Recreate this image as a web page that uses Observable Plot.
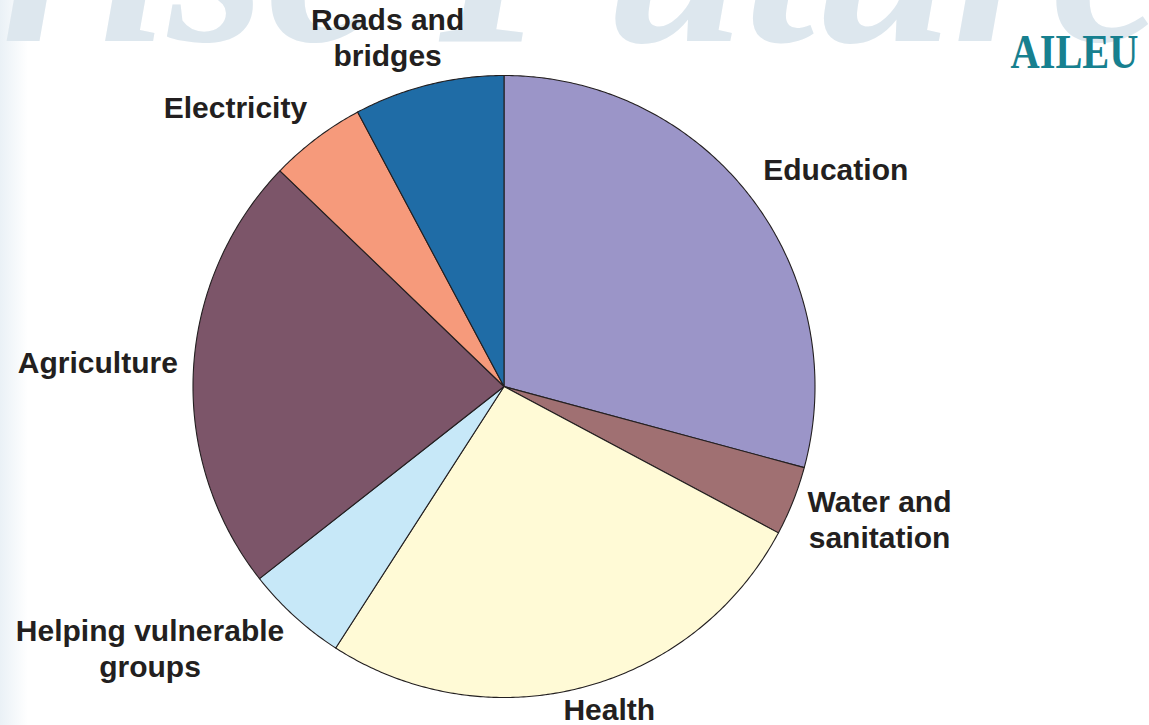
<!DOCTYPE html>
<html><head><meta charset="utf-8">
<script src="https://cdn.jsdelivr.net/npm/d3@7"></script>
<script src="https://cdn.jsdelivr.net/npm/@observablehq/plot@0.6"></script>
<style>
html,body{margin:0;padding:0;}
body{background: linear-gradient(to right, #eaf1f6 0px, #f3f7fa 12px, #ffffff 28px); width:1149px; height:725px; overflow:hidden;}
#chart svg{display:block}
</style></head><body><div id="chart"></div>
<script>
// ---- data ----
const categories = ["Education", "Water and sanitation", "Health", "Helping vulnerable groups", "Agriculture", "Electricity", "Roads and bridges"];
const labels = ["Education", "Water and\nsanitation", "Health", "Helping vulnerable\ngroups", "Agriculture", "Electricity", "Roads and\nbridges"];
const shares = [29.2, 3.6, 26.3, 5.3, 22.8, 5.0, 7.8];
const colors = ["#9b95c8", "#a07072", "#fffad6", "#c7e8f8", "#7c5569", "#f69a7b", "#1f6ca6"];

// ---- layout ----
const W = 1149, H = 725, R = 311, CX = 503.5, CY = 386;
const FONT = "'Liberation Sans', Arial, Helvetica, sans-serif";
const FS = 30, LH = 1.2;
const LINE_PAD = 26;   // px of label-box height per text line used for outward push
const LIFT = 7;        // px global upward shift of labels

const arcs = d3.pie().sort(null).value(d => d)(shares);

// slice outlines (unit circle, clockwise from 12 o'clock)
const slicePts = [];
arcs.forEach((a, i) => {
  const cat = categories[i];
  slicePts.push({cat, x: 0, y: 0});
  const n = Math.max(2, Math.ceil((a.endAngle - a.startAngle) / (Math.PI / 360)));
  for (let k = 0; k <= n; k++) {
    const t = a.startAngle + (a.endAngle - a.startAngle) * k / n;
    slicePts.push({cat, x: Math.sin(t), y: Math.cos(t)});
  }
});

// label placement rule
const ctx = document.createElement("canvas").getContext("2d");
ctx.font = `bold ${FS}px ${FONT}`;
const clamp = v => Math.max(-1, Math.min(1, v));
const labelData = arcs.map((a, i) => {
  const mid = (a.startAngle + a.endAngle) / 2;
  const lines = labels[i].split("\n");
  const w = d3.max(lines, l => ctx.measureText(l).width);
  const h = lines.length * LINE_PAD;
  const ax = 1.05 * Math.sin(mid), ay = 1.05 * Math.cos(mid);
  return {
    label: labels[i],
    x: ax + (w / 2 / R) * clamp(2 * Math.sin(mid)),
    y: ay + (h / 2 / R) * clamp(2 * Math.cos(mid)) + LIFT / R
  };
});

const chart = Plot.plot({
  width: W, height: H, margin: 0,
  x: {domain: [-CX / R, (W - CX) / R], axis: null},
  y: {domain: [-(H - CY) / R, CY / R], axis: null},
  color: {domain: categories, range: colors},
  style: {background: "transparent", overflow: "hidden"},
  marks: [
    Plot.text(["rise Future"], {
      frameAnchor: "top-right", text: d => d, textAnchor: "end", lineAnchor: "bottom",
      dx: 12, dy: 40, fontSize: 250, fontStyle: "italic", fontWeight: "bold",
      fontFamily: "'Liberation Serif', 'Times New Roman', serif", fill: "#dde7ee"
    }),
    Plot.line(slicePts, {
      x: "x", y: "y", z: "cat", fill: "cat", stroke: "#231f20", strokeWidth: 1.1,
      strokeLinejoin: "round", curve: "linear-closed"
    }),
    Plot.text(labelData, {
      x: "x", y: "y", text: "label", textAnchor: "middle", lineAnchor: "middle",
      lineHeight: LH, fontSize: FS, fontWeight: "bold", fontFamily: FONT, fill: "#231f20"
    }),
    Plot.text(["AILEU"], {
      frameAnchor: "top-right", text: d => d, textAnchor: "end", lineAnchor: "bottom",
      dx: -11, dy: 67, fontSize: 48, fontWeight: "bold",
      fontFamily: "'Liberation Serif', 'Times New Roman', serif",
      fill: "#17808f"
    })
  ]
});

d3.select(chart).selectAll("text").filter(function () { return this.textContent === "AILEU"; })
  .attr("textLength", 128).attr("lengthAdjust", "spacingAndGlyphs");

document.getElementById("chart").appendChild(chart);
</script>
</body></html>
